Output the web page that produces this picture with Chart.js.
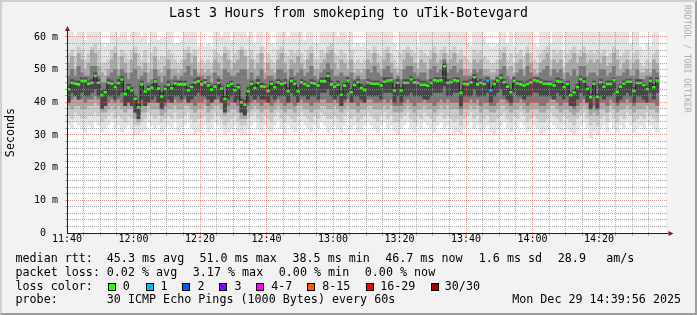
<!DOCTYPE html>
<html>
<head>
<meta charset="utf-8">
<title>Last 3 Hours from smokeping to uTik-Botevgard</title>
<script src="https://cdn.jsdelivr.net/npm/chart.js@4.4.1/dist/chart.umd.min.js"></script>
<style>
html, body { margin:0; padding:0; background:#f2f2f2; }
#wrap { position:relative; width:697px; height:315px; background:#f2f2f2; overflow:hidden; }
#chart { position:absolute; left:0; top:0; }
#frame { position:absolute; left:0; top:0; width:697px; height:315px; box-sizing:border-box; border:2px solid; border-color:#cfcfcf #9e9e9e #9e9e9e #cfcfcf; pointer-events:none; }
.tx { position:absolute; font-family:'DejaVu Sans Mono', monospace; white-space:pre; color:#000; margin:0; }
.lg { font-size:11.7px; line-height:11.7px; }
#title { font-size:13.25px; line-height:13.25px; left:0; width:697px; text-align:center; top:6.4px; }
.box { position:absolute; width:8px; height:8px; box-sizing:border-box; border:1px solid #000; }
#wm { position:absolute; left:0; top:0; font-family:'DejaVu Sans Mono', monospace; font-size:8.15px; line-height:8.15px; color:#a8a8a8; white-space:pre; transform-origin:0 0; transform:translate(691.4px, 5px) rotate(90deg); }
</style>
</head>
<body>
<div id="wrap">
  <canvas id="chart" width="697" height="315"></canvas>
  <div id="title" class="tx">Last 3 Hours from smokeping to uTik-Botevgard</div>
  <div id="wm">RRDTOOL / TOBI OETIKER</div>

  <div class="tx lg" style="left:15.5px;top:252.9px">median rtt:</div>
  <div class="tx lg" style="left:106.8px;top:252.9px">45.3 ms avg</div>
  <div class="tx lg" style="left:199.5px;top:252.9px">51.0 ms max</div>
  <div class="tx lg" style="left:292.5px;top:252.9px">38.5 ms min</div>
  <div class="tx lg" style="left:385.2px;top:252.9px">46.7 ms now</div>
  <div class="tx lg" style="left:478.8px;top:252.9px">1.6 ms sd</div>
  <div class="tx lg" style="left:557.8px;top:252.9px">28.9</div>
  <div class="tx lg" style="left:606.2px;top:252.9px">am/s</div>

  <div class="tx lg" style="left:15.5px;top:266.7px">packet loss:</div>
  <div class="tx lg" style="left:106.8px;top:266.7px">0.02 % avg</div>
  <div class="tx lg" style="left:192.8px;top:266.7px">3.17 % max</div>
  <div class="tx lg" style="left:278.8px;top:266.7px">0.00 % min</div>
  <div class="tx lg" style="left:364.8px;top:266.7px">0.00 % now</div>

  <div class="tx lg" style="left:15.5px;top:280.5px">loss color:</div>
  <div class="box" style="left:108px;top:283px;background:#26ff00"></div>
  <div class="tx lg" style="left:122.8px;top:280.5px">0</div>
  <div class="box" style="left:145.5px;top:283px;background:#00b8ff"></div>
  <div class="tx lg" style="left:160.5px;top:280.5px">1</div>
  <div class="box" style="left:182px;top:283px;background:#0059ff"></div>
  <div class="tx lg" style="left:197.5px;top:280.5px">2</div>
  <div class="box" style="left:219px;top:283px;background:#7e00ff"></div>
  <div class="tx lg" style="left:234.5px;top:280.5px">3</div>
  <div class="box" style="left:256px;top:283px;background:#ff00ff"></div>
  <div class="tx lg" style="left:271.2px;top:280.5px">4-7</div>
  <div class="box" style="left:307px;top:283px;background:#ff5500"></div>
  <div class="tx lg" style="left:322.2px;top:280.5px">8-15</div>
  <div class="box" style="left:365.5px;top:283px;background:#ff0000"></div>
  <div class="tx lg" style="left:380.2px;top:280.5px">16-29</div>
  <div class="box" style="left:430.5px;top:283px;background:#a00000"></div>
  <div class="tx lg" style="left:444.8px;top:280.5px">30/30</div>

  <div class="tx lg" style="left:15.5px;top:294.3px">probe:</div>
  <div class="tx lg" style="left:106.8px;top:294.3px">30 ICMP Echo Pings (1000 Bytes) every 60s</div>
  <div class="tx lg" style="left:512.2px;top:294.3px">Mon Dec 29 14:39:56 2025</div>

  <div id="frame"></div>
</div>
<script>
// ---- data: one value per minute starting 11:40 (ms) ----
const medianRtt = [
 44.0,46.0,45.7,45.5,46.6,46.6,45.7,46.0,48.1,46.0,
 42.2,43.1,46.0,45.7,44.7,45.9,47.0,42.6,44.5,43.7,
 41.1,38.5,45.5,43.3,44.0,44.5,46.4,44.2,41.8,44.1,
 45.4,44.3,45.8,45.5,45.5,45.5,43.7,44.7,46.1,46.5,
 45.5,46.1,45.2,43.9,44.8,46.0,44.2,41.0,45.1,45.6,
 43.7,44.6,40.0,39.3,43.4,45.6,44.4,45.9,44.9,44.8,
 43.5,45.7,44.6,46.1,45.6,46.0,43.4,46.6,45.7,43.4,
 46.1,45.6,45.1,46.0,45.8,45.2,46.5,46.5,48.1,45.5,
 44.8,45.4,42.3,45.1,46.7,43.1,45.3,46.2,44.4,43.8,
 46.1,45.8,45.7,45.7,45.2,46.3,46.7,46.8,43.6,46.0,
 43.6,46.0,46.0,47.0,46.1,46.0,45.4,45.4,45.1,46.0,
 46.8,46.6,46.8,51.0,46.0,46.2,46.8,46.6,42.9,45.6,
 45.5,46.1,47.7,45.5,46.0,45.6,46.7,43.7,45.6,46.7,
 47.5,46.2,44.8,43.1,46.6,45.8,45.5,45.2,45.6,46.1,
 46.8,46.6,46.2,45.7,45.7,45.7,45.2,46.5,46.3,44.7,
 45.7,42.2,43.0,44.7,47.1,46.4,44.1,41.6,45.7,41.7,
 46.1,44.8,45.6,45.6,46.8,43.2,44.8,45.7,46.3,46.3,
 43.5,45.9,45.9,45.3,44.1,46.6,44.6,46.7
];
const lostPings = [
 0,0,0,0,0,0,0,0,0,0, 0,0,0,0,0,0,0,0,0,0, 0,0,0,0,0,0,0,0,0,0,
 0,0,0,0,0,0,0,0,0,0, 0,0,0,0,0,0,0,0,0,0, 0,0,0,0,0,0,0,0,0,0,
 0,0,0,0,0,0,0,0,0,0, 0,0,0,0,0,0,0,0,0,0, 0,0,0,0,0,0,0,0,0,0,
 0,0,0,0,0,0,0,0,0,0, 0,0,0,0,0,0,0,0,0,0, 0,0,0,0,0,0,0,0,0,0,
 0,0,0,0,0,0,1,1,0,0, 0,0,0,0,0,0,0,0,0,0, 0,0,0,0,0,0,0,0,0,0,
 0,0,0,0,0,0,0,0,0,0, 0,0,0,0,0,0,0,0,0,0, 0,0,0,0,0,0,0,0
];
// smoke, outermost band (fastest .. slowest ping)
const smokeMin = [
 33,32,34,33,32,31,33,32,34,33, 31,32,33,34,32,33,31,32,33,32,
 30,30,31,32,34,33,32,33,31,32, 33,32,34,31,32,33,34,32,30,31,
 32,33,31,32,34,33,32,30,31,32, 33,31,30,30,32,33,34,32,31,33,
 32,31,33,34,32,30,33,32,31,33, 34,33,32,31,33,32,34,33,31,32,
 33,32,31,33,34,32,33,31,32,33, 34,33,32,31,33,34,32,33,31,30,
 32,33,34,32,31,33,32,34,33,32, 31,33,34,32,33,32,30,31,30,32,
 33,34,32,33,31,32,33,31,30,32, 33,34,32,31,33,32,34,33,31,32,
 33,32,30,31,32,34,33,32,31,33, 32,31,30,32,33,34,32,29,31,30,
 32,33,31,34,32,31,33,32,34,33, 31,32,33,32,34,33,32,31
];
const smokeMax = [
 62,62,60,62,62,59,62,62,62,62, 58,57,58,62,62,60,62,62,59,62,
 62,62,60,62,58,62,62,59,59.5,60, 62,62,58,58,59,62,62,62,62,57,
 58,57,58,57,62,62,60,62,62,59, 62,62,62,62,60,62,58,62,62,57,
 62,58,57,62,62,62,60,62,62,62, 62,59,62,62,58,58,62,62,62,62,
 62,60,62,62,59,62,57,58,57,58, 62,62,62,62,62,62,62,62,58,56,
 62,62,62,62,62,57,62,62,62,62, 62,62,62,62,62,62,62,62,62,62,
 58,57,62,62,62,60,58,57,57,58, 62,62,58,62,57,62,62,62,62,62,
 58,57,62,62,62,58,62,62,62,56, 62,62,62,62,62,62,62,62,62,62,
 62,62,62,62,62,62,62,62,62,58, 62,62,57,56,58,57,62,62
];
// second band
const smokeLo2 = [
 36,35,37,36,35,35,36,36,37,36, 34,35,36,37,35,36,35,34,36,35,
 33,33,34,35,37,36,35,36,34,35, 36,35,37,35,35,36,37,35,34,35,
 35,36,34,35,37,36,35,33,34,35, 36,34,33,33,35,36,37,35,34,36,
 35,34,36,37,35,34,36,35,34,36, 37,36,35,34,36,35,37,36,35,35,
 36,35,34,36,37,35,36,34,35,36, 37,36,35,34,36,37,35,36,34,34,
 35,36,37,35,34,36,35,37,36,35, 34,36,37,35,36,35,34,35,33,35,
 36,37,35,36,34,35,36,34,34,35, 36,37,35,34,36,35,37,36,34,35,
 36,35,34,34,35,37,36,35,34,36, 35,34,33,35,36,37,35,33,34,33,
 35,36,34,37,35,34,36,35,37,36, 34,35,36,35,37,36,35,34
];
const smokeHi2 = [
 55,56,54,57,56,53,55,57,58,56, 52,52,53,56,57,54,56,55,53,56,
 57,55,53,56,52,55,57,53,54,54, 56,55,53,52,53,56,57,55,56,52,
 53,52,53,52,56,55,54,57,56,53, 55,56,57,56,54,56,53,55,57,52,
 55,53,52,56,57,55,54,56,55,56, 55,53,56,57,53,53,56,55,57,58,
 55,54,56,55,53,56,52,53,52,53, 56,55,57,55,54,56,57,55,53,51,
 55,56,57,56,55,52,56,55,54,56, 57,55,56,57,55,56,57,55,56,54,
 53,52,56,55,56,54,53,52,52,53, 56,57,53,55,52,55,56,54,57,55,
 53,52,55,56,57,53,56,55,56,51, 55,56,57,55,56,57,55,56,55,56,
 55,56,54,55,57,56,54,55,56,53, 55,56,52,51,53,52,55,56
];
// third band
const smokeLo3 = [
 39,38,39,39,38,38,39,39,40,39, 37,37,38,39,38,39,38,37,38,38,
 35,34,37,37,39,38,38,38,36,37, 38,38,39,38,38,39,39,38,37,38,
 38,39,37,38,39,39,38,36,37,38, 38,37,35,35,37,38,39,38,37,38,
 38,37,38,39,38,37,38,38,37,39, 39,38,38,37,38,38,39,39,38,38,
 39,38,37,38,39,38,38,37,38,38, 39,39,38,38,38,39,38,39,37,37,
 37,38,39,38,37,38,38,39,38,38, 37,38,39,38,39,38,38,38,36,38,
 38,39,38,39,37,38,38,37,37,38, 39,39,38,37,38,38,39,38,37,38,
 38,38,37,37,38,39,39,38,37,38, 38,37,36,37,38,39,38,36,37,36,
 38,38,37,39,38,37,38,38,39,38, 37,38,38,38,39,38,38,37
];
const smokeHi3 = [
 52,54,50,55,53,50,52,56,55,51, 49,48,50,53,55,50,54,52,49,53,
 55,51,50,52,49,50,54,50,49,51, 53,50,50,49,50,53,55,52,54,49,
 50,49,50,49,53,52,50,55,53,50, 52,53,56,54,50,53,50,52,55,49,
 52,50,49,53,55,52,50,53,52,54, 52,50,53,55,50,50,52,53,55,56,
 52,50,53,52,50,53,49,50,49,50, 53,52,55,52,50,53,55,52,50,49,
 50,53,55,54,52,50,53,52,50,53, 55,52,53,55,52,53,55,52,53,50,
 50,49,53,52,53,50,50,49,49,50, 53,55,50,51,49,52,53,50,55,52,
 50,49,52,53,55,50,53,52,53,49, 52,53,55,52,54,55,52,53,52,53,
 52,54,51,52,55,53,50,52,53,50, 52,53,49,49,50,49,53,52
];
// fourth band
const smokeLo4 = [
 41,41,42,41,41,40,41,41,42,41, 39,39,40,41,40,41,40,39,40,40,
 37,36,39,39,41,40,40,40,38,39, 40,40,41,40,40,41,41,40,39,40,
 40,41,39,40,41,41,40,38,39,40, 40,39,37,37,39,40,41,40,39,40,
 40,39,40,41,40,39,40,40,39,41, 41,40,40,39,40,40,41,41,40,40,
 41,40,39,40,41,40,40,39,40,40, 41,41,40,40,40,41,40,41,39,39,
 39,40,41,40,39,40,40,41,40,40, 39,40,41,40,41,40,40,40,38,40,
 40,41,40,41,39,40,40,39,39,40, 41,41,40,39,40,40,41,40,39,40,
 40,40,39,39,40,41,41,40,39,40, 40,39,38,39,40,41,40,38,39,38,
 40,40,39,41,40,39,40,40,41,40, 39,40,40,40,41,40,40,39
];
const smokeHi4 = [
 48,50,48,51,49,48,48,51,51,48, 46,46,48,49,50,48,50,49,47,49,
 50,47,48,49,46,47,50,48,46,48, 50,47,48,47,48,49,51,48,50,48,
 48,47,48,46,49,48,47,50,49,48, 48,49,50,50,47,49,47,48,50,47,
 48,48,47,50,50,49,47,50,48,49, 50,48,49,51,48,47,49,50,52,50,
 48,48,49,48,48,49,47,48,47,47, 50,49,51,49,48,50,51,49,47,48,
 47,50,51,51,49,48,49,49,47,50, 51,49,50,53,49,50,51,49,50,48,
 48,48,50,49,50,48,48,47,47,48, 50,51,48,47,48,49,50,48,51,49,
 48,48,49,50,51,48,50,49,50,47, 49,48,50,48,51,51,48,49,49,48,
 50,50,48,49,51,48,48,49,50,48, 48,50,47,47,48,48,50,49
];
// darkest core (pings closest to the median)
const smokeLo5 = [
 40,43,42,41,43,42,42,43,44,42, 38,39,42,42,41,42,43,39,40,39,
 37,35,41,39,40,41,42,40,38,40, 41,40,42,42,41,42,40,41,42,43,
 42,42,41,40,41,42,40,37,41,42, 40,41,37,36,40,42,41,42,41,41,
 40,42,41,42,42,42,40,43,42,40, 42,42,41,42,42,41,43,43,44,42,
 41,42,39,41,43,40,42,42,41,40, 42,42,42,42,41,43,43,43,40,42,
 40,42,42,43,42,42,42,41,41,42, 43,43,43,45,42,42,43,43,39,42,
 42,42,44,42,42,42,43,40,42,43, 44,42,41,40,43,42,42,41,42,42,
 43,43,42,42,42,42,41,43,42,41, 42,39,39,41,43,42,40,38,42,38,
 42,41,42,42,43,40,41,42,43,42, 40,42,42,41,40,43,41,43
];
const smokeHi5 = [
 45,47,46.5,46.5,47.5,47.5,46.5,47,49,47, 43.5,44,47,46.5,45.5,47,48,43.5,45.5,44.5,
 42,39.5,46.5,44,45,45.5,47,45,43,45, 46.5,45,46.5,46.5,46.5,46.5,44.5,45.5,47,47.5,
 46.5,47,46,45,45.5,47,45,42,46,46.5, 44.5,45.5,41,40.5,44.5,46.5,45.5,47,46,45.5,
 44.5,46.5,45.5,47,46.5,47,44.5,47.5,46.5,44.5, 47,46.5,46,47,46.5,46,47.5,47.5,49,46.5,
 45.5,46.5,43.5,46,47.5,44,46.5,47,45.5,45, 47,46.5,46.5,46.5,46,47.5,47.5,47.5,44.5,47,
 44.5,47,47,48,47,47,46.5,46.5,46,47, 47.5,47.5,47.5,52,47,47,47.5,47.5,44,46.5,
 46.5,47,48.5,46.5,47,46.5,47.5,44.5,46.5,47.5, 48.5,47,45.5,44,47.5,46.5,46.5,46,46.5,47,
 47.5,47.5,47,46.5,46.5,46.5,46,47.5,47,45.5, 46.5,43,44,45.5,48,47.5,45,42.5,46.5,42.5,
 47,45.5,46.5,46.5,47.5,44,45.5,46.5,47,47, 44.5,47,47,46,45,47.5,45.5,47.5
];
const xTickLabels = ['11:40','12:00','12:20','12:40','13:00','13:20','13:40','14:00','14:20'];
const yTickLabels = ['0  ','10 m','20 m','30 m','40 m','50 m','60 m'];
const lossColors = ['#26ff00','#00b8ff','#0059ff','#7e00ff','#ff00ff','#ff5500','#ff0000','#a00000'];

// ---- helpers ----
function band(lo, hi) { return lo.map((v, i) => ({ x: i + 0.5, y: [v, hi[i]] })); }
function lossColorFor(n) {
  if (n <= 3) return lossColors[n];
  if (n <= 7) return lossColors[4];
  if (n <= 15) return lossColors[5];
  if (n <= 29) return lossColors[6];
  return lossColors[7];
}
const GRID = 'rgba(143,143,143,0.75)';
const MGRID = 'rgba(222,79,79,0.6)';
const MONO = "'DejaVu Sans Mono', monospace";
const medianPts = medianRtt.map((v, i) => ({ x: i + 0.5, y: v }));

// rrdtool-style dotted grid drawn on top of the data, from the chart's own scale ticks
const rrdGrid = {
  id: 'rrdGrid',
  beforeDraw(chart) {
    const { ctx, chartArea: a } = chart;
    ctx.save();
    ctx.fillStyle = '#ffffff';
    ctx.fillRect(a.left, a.top, a.right - a.left, a.bottom - a.top);
    ctx.restore();
  },
  afterDatasetsDraw(chart) {
    const { ctx, chartArea: a, scales } = chart;
    const xs = scales.x, ys = scales.y;
    const top = Math.round(a.top), bottom = Math.round(a.bottom);
    const left = Math.round(a.left), right = Math.round(a.right);
    ctx.save();
    (xs.ticks || []).forEach(t => {
      const v = t.value;
      if (v <= 0 || v >= 180) return;
      const px = Math.round(xs.getPixelForValue(v) - 0.5);
      ctx.fillStyle = v % 20 === 0 ? MGRID : GRID;
      for (let yy = top; yy < bottom; yy += 2) ctx.fillRect(px, yy, 1, 1);
      ctx.fillRect(px, bottom + 1, 1, 2);
    });
    (ys.ticks || []).forEach(t => {
      const v = t.value;
      if (v <= 0) return;
      const py = Math.round(ys.getPixelForValue(v) - 0.5);
      ctx.fillStyle = v % 10 === 0 ? MGRID : GRID;
      for (let xx = left + 1; xx < right + 2; xx += 2) ctx.fillRect(xx, py, 1, 1);
      ctx.fillRect(left - 2, py, 2, 1);
    });
    ctx.restore();
  },
  afterDraw(chart) {
    const { ctx, chartArea: a } = chart;
    ctx.save();
    ctx.lineWidth = 1;
    const ax = Math.round(a.left - 0.5) + 0.5;
    const ay = Math.round(a.bottom - 0.5) + 0.5;
    ctx.strokeStyle = '#1f1f1f';
    ctx.beginPath(); ctx.moveTo(ax, a.bottom + 0.5); ctx.lineTo(ax, a.top - 2); ctx.stroke();
    ctx.beginPath(); ctx.moveTo(a.left, ay); ctx.lineTo(a.right + 3, ay); ctx.stroke();
    ctx.fillStyle = '#801f1f';
    ctx.beginPath(); ctx.moveTo(ax, a.top - 6); ctx.lineTo(ax - 2.5, a.top - 1); ctx.lineTo(ax + 2.5, a.top - 1); ctx.closePath(); ctx.fill();
    ctx.beginPath(); ctx.moveTo(a.right + 8, ay); ctx.lineTo(a.right + 3, ay - 2.5); ctx.lineTo(a.right + 3, ay + 2.5); ctx.closePath(); ctx.fill();
    ctx.restore();
  }
};

new Chart(document.getElementById('chart'), {
  type: 'bar',
  data: {
    datasets: [
      { type: 'bar', data: band(smokeMin, smokeMax), backgroundColor: '#e4e4e4', order: 10 },
      { type: 'bar', data: band(smokeLo2, smokeHi2), backgroundColor: '#cbcbcb', order: 9 },
      { type: 'bar', data: band(smokeLo3, smokeHi3), backgroundColor: '#a8a8a8', order: 8 },
      { type: 'bar', data: band(smokeLo4, smokeHi4), backgroundColor: '#7a7a7a', order: 7 },
      { type: 'bar', data: band(smokeLo5, smokeHi5), backgroundColor: '#474747', order: 6 },
      { type: 'line', data: medianPts, stepped: 'middle', borderColor: '#202020', borderWidth: 1, pointRadius: 0, fill: false, order: 2 },
      { type: 'line', data: medianPts, showLine: false, pointStyle: 'line', pointRadius: 1.7, pointHoverRadius: 1.7,
        pointBorderWidth: 2.6, pointBorderColor: c => lossColorFor(lostPings[c.dataIndex] || 0), order: 1 }
    ]
  },
  options: {
    responsive: false,
    animation: false,
    devicePixelRatio: 1,
    events: [],
    layout: { padding: { top: 32, right: 31.5, bottom: 0, left: 0 } },
    datasets: { bar: { grouped: false, barPercentage: 1, categoryPercentage: 1, borderWidth: 0 } },
    plugins: { legend: { display: false }, tooltip: { enabled: false }, title: { display: false } },
    scales: {
      x: {
        type: 'linear', min: 0, max: 180, offset: false,
        afterFit(s) { s.height = 82; },
        ticks: { stepSize: 5, maxTicksLimit: 1000, includeBounds: false, autoSkip: false, maxRotation: 0, minRotation: 0, padding: 0,
                 color: '#000', font: { family: MONO, size: 10 },
                 callback: v => (v % 20 === 0 ? (xTickLabels[v / 20] || '') : '') },
        grid: { display: false, drawTicks: false },
        border: { display: true, color: '#1f1f1f', width: 1 }
      },
      y: {
        type: 'linear', min: 0, max: 61.53,
        afterFit(s) { s.width = 67; },
        ticks: { stepSize: 2, maxTicksLimit: 1000, includeBounds: false, autoSkip: false, padding: 9, color: '#000', font: { family: MONO, size: 10 },
                 callback: v => (v % 10 === 0 ? (yTickLabels[v / 10] || '') : '') },
        grid: { display: false, drawTicks: false },
        border: { display: true, color: '#1f1f1f', width: 1 },
        title: { display: true, text: 'Seconds', color: '#000', font: { family: MONO, size: 11.7 }, padding: { top: 4, bottom: 0 } }
      }
    }
  },
  plugins: [rrdGrid]
});
</script>
</body>
</html>
